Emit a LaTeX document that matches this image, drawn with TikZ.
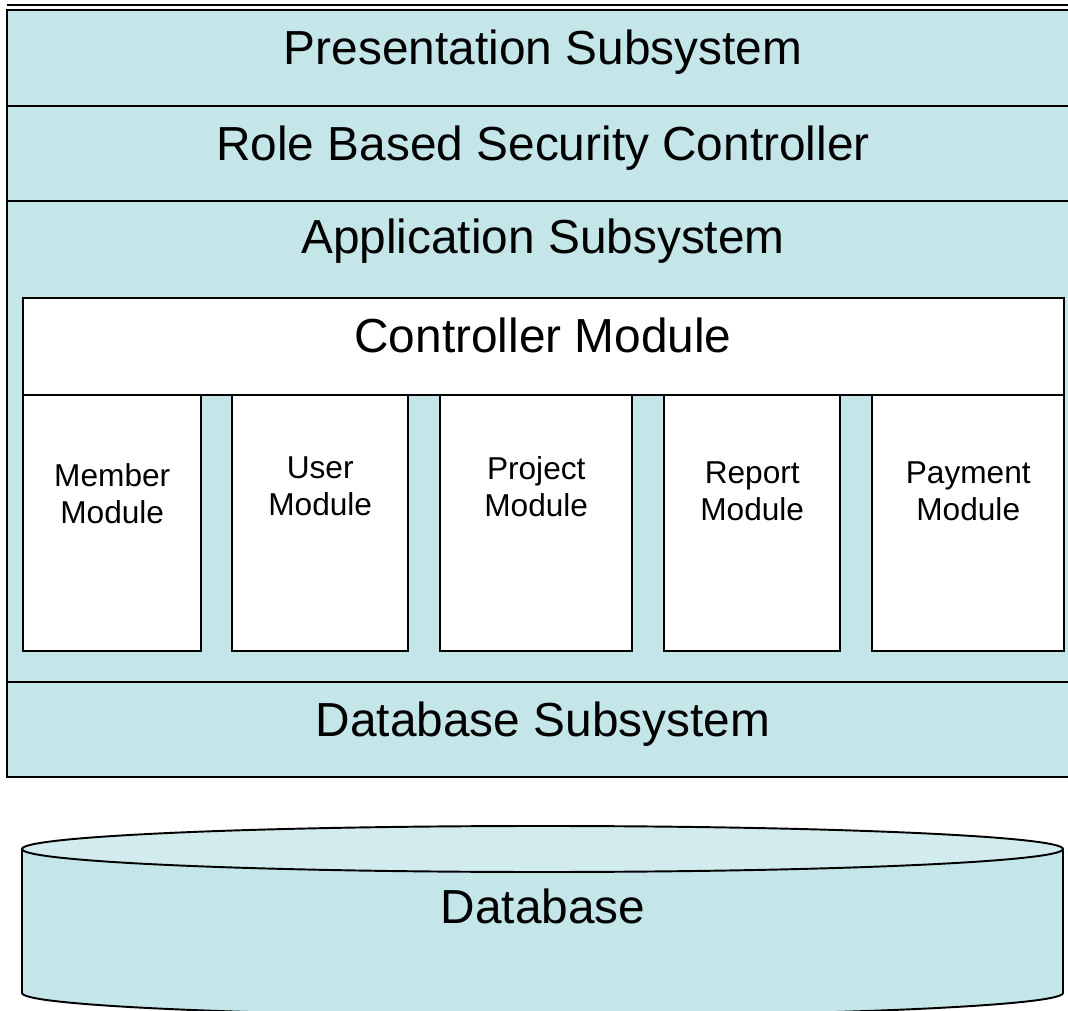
\documentclass[tikz,border=0pt]{standalone}
\usepackage{fontspec}
\setmainfont{Liberation Sans}
\definecolor{layerfill}{RGB}{196,230,232}
\definecolor{dbtop}{RGB}{210,235,237}
\usetikzlibrary{positioning}

\tikzset{
  layertext/.style={font=\fontsize{13.6}{16}\selectfont, anchor=base, inner sep=0pt},
  modbox/.style={draw, fill=white, line width=0.7pt, anchor=north west, inner sep=0pt, minimum height=2.56cm},
  modtext/.style={font=\fontsize{9}{10.4}\selectfont, align=center, anchor=north, inner sep=0pt},
}

\begin{document}
\begin{tikzpicture}
  \useasboundingbox (0,0) rectangle (10.68,10.10);
  \clip (0,0) rectangle (10.68,10.10);

  %% Layer stack
  \draw[line width=0.6pt] (0.07,10.05) -- (10.80,10.05);
  \draw[line width=0.7pt, fill=layerfill] (0.07,2.33) rectangle (10.80,10.00);
  \draw[line width=0.7pt] (0.07,9.04) -- (10.80,9.04);
  \draw[line width=0.7pt] (0.07,8.09) -- (10.80,8.09);
  \draw[line width=0.7pt] (0.07,3.28) -- (10.80,3.28);

  \node[layertext] (pres) at (5.43,9.457) {Presentation Subsystem};
  \node[layertext] (rbsc) at (5.43,8.493) {Role Based Security Controller};
  \node[layertext] (app) at (5.43,7.56) {Application Subsystem};
  \node[layertext] (dbsub) at (5.43,2.74) {Database Subsystem};

  %% Controller module
  \node[draw, fill=white, line width=0.7pt, anchor=north west, inner sep=0pt, minimum width=10.41cm, minimum height=0.97cm] (ctrl) at (0.22,7.13) {};
  \node[layertext] (ctrltxt) at (5.43,6.57) {Controller Module};

  %% Modules
  \node[modbox, minimum width=1.78cm] (member) at (0.22,6.16) {};
  \node[modbox, minimum width=1.76cm] (user) at (2.31,6.16) {};
  \node[modbox, minimum width=1.92cm] (project) at (4.39,6.16) {};
  \node[modbox, minimum width=1.76cm] (report) at (6.63,6.16) {};
  \node[modbox, minimum width=1.92cm] (payment) at (8.71,6.16) {};

  \node[modtext] (membertxt) at ([yshift=-0.69cm]member.north) {Member\\Module};
  \node[modtext] (usertxt) at ([yshift=-0.62cm]user.north) {User\\Module};
  \node[modtext] (projecttxt) at ([yshift=-0.62cm]project.north) {Project\\Module};
  \node[modtext] (reporttxt) at ([yshift=-0.67cm]report.north) {Report\\Module};
  \node[modtext] (paymenttxt) at ([yshift=-0.67cm]payment.north) {Payment\\Module};

  %% Database cylinder
  \fill[layerfill] (0.22,1.61) -- (0.22,0.17) arc[start angle=180, end angle=360, x radius=5.205, y radius=0.23] -- (10.63,1.61) -- cycle;
  \draw[line width=0.55pt] (0.22,1.61) -- (0.22,0.17) arc[start angle=180, end angle=360, x radius=5.205, y radius=0.23] -- (10.63,1.61);
  \draw[line width=0.55pt, fill=dbtop] (5.425,1.61) ellipse [x radius=5.205, y radius=0.23];
  \node[layertext] (db) at (5.43,0.87) {Database};
\end{tikzpicture}
\end{document}
